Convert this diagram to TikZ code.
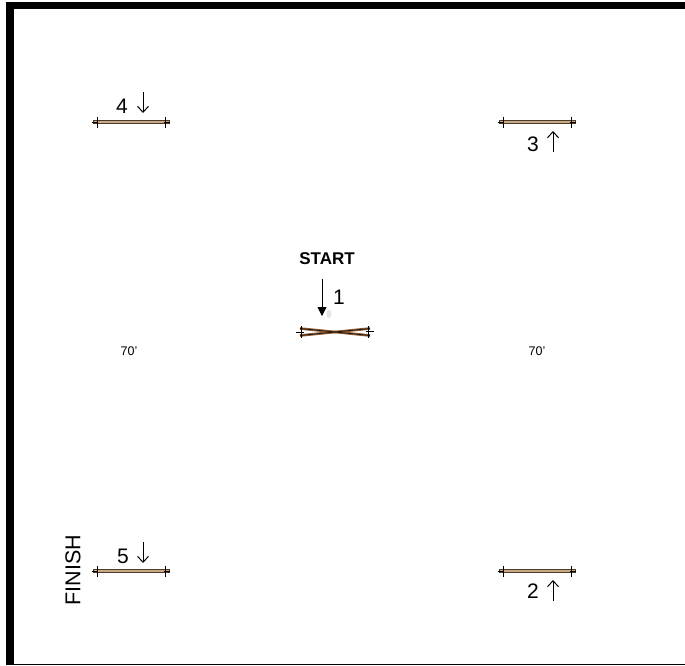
\documentclass[tikz,border=0pt]{standalone}
\usepackage{fontspec}
\setmainfont{Liberation Sans}
\usetikzlibrary{arrows.meta,positioning,calc}
\definecolor{gateTan}{HTML}{C8A982}
\definecolor{gateEdge}{HTML}{4A3B2C}
\definecolor{gateBrown}{HTML}{8A5A32}
\tikzset{
  gatetick/.style={draw=black, line width=0.8pt},
  gatebar/.style={rectangle, draw=gateEdge, fill=gateTan, line width=0.8pt, inner sep=0pt,
    minimum width=76pt, minimum height=3.5pt,
    append after command={
      (\tikzlastnode.center) ++(-34,-5.5) edge[gatetick] ++(0,11)
      (\tikzlastnode.center) ++(34,-5.5) edge[gatetick] ++(0,11)
      (\tikzlastnode.west) ++(-1,0) edge[gatetick, shorten >=72pt] ++(78,0)
      (\tikzlastnode.east) ++(1,0) edge[gatetick, shorten >=72pt] ++(-78,0)}},
  crossbar/.style={rectangle, inner sep=0pt, minimum width=76pt, minimum height=9pt},
  crossline/.style={draw=gateBrown, line width=2.6pt},
  crossedge/.style={draw=black, line width=0.5pt},
  gatelabel/.style={font=\fontsize{21}{25}\selectfont, inner sep=0pt},
  distlabel/.style={font=\fontsize{12.5}{15}\selectfont, inner sep=0pt},
  barbarrow/.style={-{Straight Barb[length=6pt,width=11pt]}, line width=1pt},
  startarrow/.style={-{Triangle[length=9pt,width=9pt]}, line width=0.8pt}
}
\begin{document}
\begin{tikzpicture}[x=1pt,y=-1pt]
    \useasboundingbox (0,0) rectangle (685,665);
    \fill[black] (6,2) rectangle (685,9);
    \fill[black] (6,2) rectangle (14,665);
    \fill[black] (6,663.5) rectangle (685,665);

    \node[gatebar] (gatefour) at (131,122) {};
    \node[gatebar] (gatethree) at (537,122) {};
    \node[gatebar] (gatefive) at (131,571) {};
    \node[gatebar] (gatetwo) at (537,571) {};
    \node[crossbar] (gateone) at (335,332) {};

    % crossed pair at the start
    \coordinate (crossa) at ($(gateone.center)+(-35,-3.5)$);
    \coordinate (crossb) at ($(gateone.center)+(35,3.5)$);
    \coordinate (crossc) at ($(gateone.center)+(-35,3.5)$);
    \coordinate (crossd) at ($(gateone.center)+(35,-3.5)$);
    \draw[crossline] (crossa) -- (crossb);
    \draw[crossline] (crossc) -- (crossd);
    \draw[crossedge] (crossa) -- (crossb);
    \draw[crossedge] (crossc) -- (crossd);
    \draw[gatetick] ($(gateone.center)+(-34,-6)$) -- ($(gateone.center)+(-34,6)$);
    \draw[gatetick] ($(gateone.center)+(33,-6)$) -- ($(gateone.center)+(33,6)$);
    \draw[gatetick] ($(gateone.center)+(-39,0)$) -- ($(gateone.center)+(-31,0)$);
    \draw[gatetick] ($(gateone.center)+(31,-1)$) -- ($(gateone.center)+(39,-1)$);

    \node[gatelabel] (labelfour) at (122,106) {4};
    \node[gatelabel] (labelthree) at (533,144) {3};
    \node[gatelabel] (labelfive) at (123,556) {5};
    \node[gatelabel] (labeltwo) at (533,591) {2};
    \node[font=\fontsize{17}{20}\selectfont\bfseries, inner sep=0pt] (startlabel) at (327,259) {START};
    \node[gatelabel] (labelone) at (339,297) {1};
    \node[font=\fontsize{21.5}{26}\selectfont, inner sep=0pt, rotate=90] (finishlabel) at (73,570) {FINISH};
    \node[distlabel] (distleft) at (129,351) {70'};
    \node[distlabel] (distright) at (537,351) {70'};

    \coordinate (fourtop) at (143,92);
    \coordinate (fourend) at (143,113);
    \coordinate (fivetop) at (143,542);
    \coordinate (fiveend) at (143,563);
    \coordinate (threelow) at (553,152);
    \coordinate (threeend) at (553,131);
    \coordinate (twolow) at (553,601);
    \coordinate (twoend) at (553,580);
    \coordinate (onetop) at (322,279);
    \coordinate (oneend) at (322,316);

    \fill[gray!35, opacity=0.6] (329,314) ellipse (2.5 and 4);
    \draw[barbarrow] (fourtop) -- (fourend);
    \draw[barbarrow] (fivetop) -- (fiveend);
    \draw[barbarrow] (threelow) -- (threeend);
    \draw[barbarrow] (twolow) -- (twoend);
    \draw[startarrow] (onetop) -- (oneend);
  \end{tikzpicture}
\end{document}
